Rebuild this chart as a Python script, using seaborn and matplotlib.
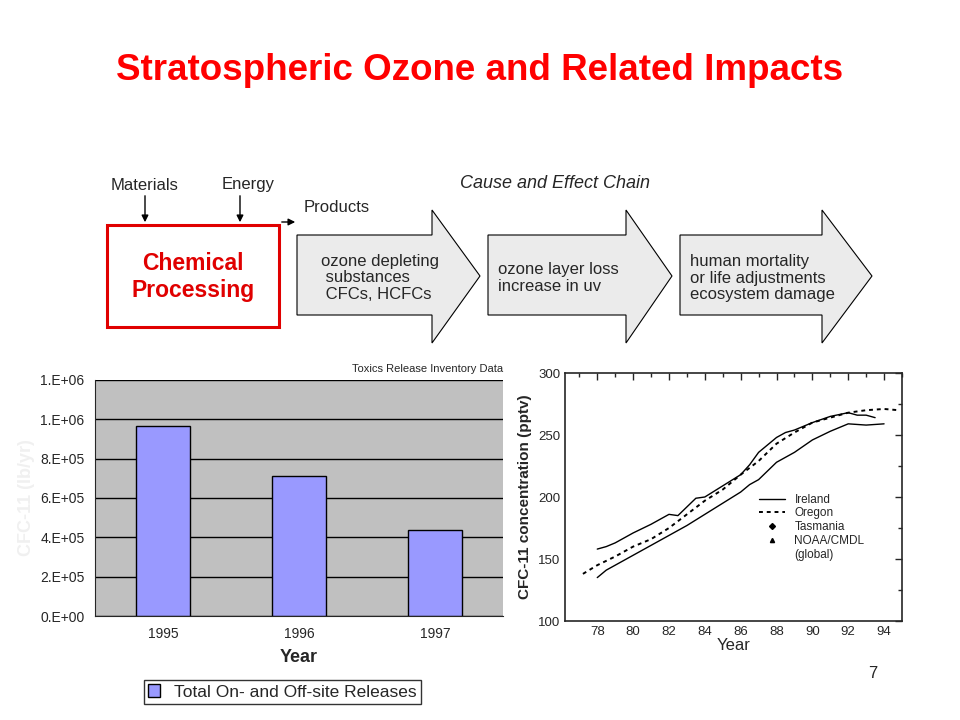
import numpy as np
import pandas as pd
import matplotlib
matplotlib.use("Agg")
import matplotlib.pyplot as plt
import matplotlib.patches as patches
from matplotlib.lines import Line2D
import seaborn as sns

sns.set_style("white")
plt.rcParams['font.family'] = ['Liberation Sans', 'DejaVu Sans']

# TRI bar data
years = ["1995", "1996", "1997"]
releases = [965000, 710000, 435000]

# CFC-11 concentration curves (pptv)
ireland_x = [78.0, 78.5, 79.0, 80.0, 81.0, 82.0, 82.5, 83.0, 83.5, 84.0, 85.0, 86.0, 86.5, 87.0, 87.5, 88.0, 88.5, 89.0, 90.0, 91.0, 92.0, 92.5, 93.0, 93.5]
ireland_y = [158, 160, 163, 171, 178, 186, 185, 192, 199, 200, 209, 218, 226, 236, 242, 248, 252, 254, 260, 265, 268, 266, 266, 264]
oregon_x = [77.2, 78.0, 79.0, 80.0, 81.0, 82.0, 83.0, 84.0, 85.0, 86.0, 87.0, 88.0, 89.0, 90.0, 91.0, 92.0, 93.0, 94.0, 94.8]
oregon_y = [138, 145, 152, 160, 166, 175, 186, 197, 206, 218, 229, 243, 252, 260, 264, 268, 270, 271, 270]
south_x = [78.0, 78.5, 79.0, 80.0, 81.0, 82.0, 83.0, 84.0, 85.0, 86.0, 86.5, 87.0, 88.0, 89.0, 90.0, 91.0, 91.5, 92.0, 93.0, 94.0]
south_y = [135, 141, 145, 153, 161, 169, 177, 186, 195, 204, 210, 214, 228, 236, 246, 253, 256, 259, 258, 259]

fig = plt.figure(figsize=(9.6, 7.2), dpi=100)
W, H = 960, 720

# overlay layer in pixel coords
ov = fig.add_axes([0, 0, 1, 1])
ov.set_xlim(0, W)
ov.set_ylim(H, 0)
ov.axis('off')

ov.text(480, 70, "Stratospheric Ozone and Related Impacts", color='#ff0000',
        fontsize=26.5, fontweight='bold', ha='center', va='center')
ov.text(145, 185, "Materials", fontsize=12, ha='center', va='center')
ov.text(248, 185, "Energy", fontsize=12, ha='center', va='center')
ov.text(337, 208, "Products", fontsize=12, ha='center', va='center')
ov.text(555, 184, "Cause and Effect Chain", fontsize=13, style='italic',
        ha='center', va='center')
ov.annotate("", xy=(145, 225), xytext=(145, 193),
            arrowprops=dict(arrowstyle='-|>', color='black', lw=1))
ov.annotate("", xy=(240, 225), xytext=(240, 193),
            arrowprops=dict(arrowstyle='-|>', color='black', lw=1))
ov.annotate("", xy=(298, 222), xytext=(279, 222),
            arrowprops=dict(arrowstyle='-|>', color='black', lw=1))
ov.add_patch(patches.Rectangle((107, 225), 172, 102, fill=False,
                               edgecolor='#e00000', lw=2.2))
ov.text(193, 277, "Chemical\nProcessing", color='#e00000', fontsize=16.5,
        fontweight='bold', ha='center', va='center', linespacing=1.25)


def block_arrow(x0, x1, xh, label, tx):
    pts = [(x0, 235), (xh, 235), (xh, 210), (x1, 276), (xh, 343),
           (xh, 315), (x0, 315)]
    ov.add_patch(patches.Polygon(pts, closed=True, facecolor='#ebebeb',
                                 edgecolor='black', lw=0.8))
    ov.text(tx, 278, label, fontsize=12, ha='left', va='center',
            linespacing=1.15)


block_arrow(297, 480, 432, "ozone depleting\n substances\n CFCs, HCFCs", 321)
block_arrow(488, 672, 626, "ozone layer loss\nincrease in uv", 498)
block_arrow(680, 872, 822, "human mortality\nor life adjustments\necosystem damage", 690)
ov.text(873, 673, "7", fontsize=12, ha='center', va='center')

# bar chart
ax1 = fig.add_axes([95 / W, 1 - 616 / H, 408 / W, 236 / H])
df = pd.DataFrame({"Year": years, "Releases": releases})
sns.barplot(data=df, x="Year", y="Releases", color='#9999ff', edgecolor='black',
            linewidth=1, width=0.4, saturation=1, ax=ax1)
ax1.set_facecolor('#c0c0c0')
ax1.set_xlim(-0.5, 2.5)
ax1.set_ylim(0, 1.2e6)
ax1.set_yticks(np.arange(0, 1.2e6 + 1, 2e5))
ax1.set_yticklabels(["0.E+00", "2.E+05", "4.E+05", "6.E+05", "8.E+05", "1.E+06", "1.E+06"])
ax1.yaxis.grid(True, color='black', lw=1)
ax1.set_axisbelow(True)
ax1.tick_params(axis='both', labelsize=10, length=4, direction='out')
ax1.tick_params(axis='x', length=0, pad=8)
ax1.set_xticks([-0.5, 0.5, 1.5, 2.5], minor=True)
ax1.tick_params(axis='x', which='minor', length=4)
for s in ax1.spines.values():
    s.set_visible(False)
ax1.spines['left'].set_visible(True)
ax1.spines['bottom'].set_visible(True)
ax1.set_xlabel("Year", fontsize=13, fontweight='bold', labelpad=6)
ax1.set_ylabel("CFC-11 (lb/yr)", fontsize=13, fontweight='bold', color='#f0f0f0')
ax1.set_title("Toxics Release Inventory Data", fontsize=8, loc='right', pad=6)
ax1.legend(handles=[patches.Patch(facecolor='#9999ff', edgecolor='black',
                                  label="Total On- and Off-site Releases")],
           loc='upper center', bbox_to_anchor=(0.46, -0.235), fontsize=12.5,
           frameon=True, fancybox=False, edgecolor='black', handlelength=0.7,
           handleheight=0.7, borderpad=0.25)

# CFC-11 curves
ax2 = fig.add_axes([565 / W, 1 - 621 / H, 337 / W, 248 / H])
sns.lineplot(x=ireland_x, y=ireland_y, color='black', lw=1, ax=ax2)
sns.lineplot(x=oregon_x, y=oregon_y, color='black', lw=1.4, linestyle=(0, (2, 2)), ax=ax2)
sns.lineplot(x=south_x, y=south_y, color='black', lw=1, ax=ax2)
ax2.set_xlim(76.2, 95.0)
ax2.set_ylim(100, 300)
ax2.set_xticks(range(78, 95, 2))
ax2.set_xticks(range(77, 96, 1), minor=True)
ax2.set_yticks([100, 150, 200, 250, 300])
ax2.set_yticks(range(100, 301, 25), minor=True)
ax2.tick_params(axis='both', which='both', direction='in', top=True, right=True,
                labelsize=9.5, width=1)
ax2.tick_params(which='major', length=5)
ax2.tick_params(which='minor', length=3)
for s in ax2.spines.values():
    s.set_linewidth(1.2)
ax2.set_xlabel("Year", fontsize=12, labelpad=0)
ax2.set_ylabel("CFC-11 concentration (pptv)", fontsize=11, fontweight='bold')
handles = [Line2D([], [], color='black', lw=1),
           Line2D([], [], color='black', lw=1.4, linestyle=(0, (2, 2))),
           Line2D([], [], color='black', marker='D', ms=3, lw=0),
           Line2D([], [], color='black', marker='^', ms=3, lw=0),
           Line2D([], [], lw=0)]
ax2.legend(handles, ["Ireland", "Oregon", "Tasmania", "NOAA/CMDL", "(global)"],
           loc='lower right', bbox_to_anchor=(0.92, 0.2), frameon=False,
           fontsize=8.5, handlelength=2.2, labelspacing=0.15)

fig.savefig("out.png", dpi=100)
